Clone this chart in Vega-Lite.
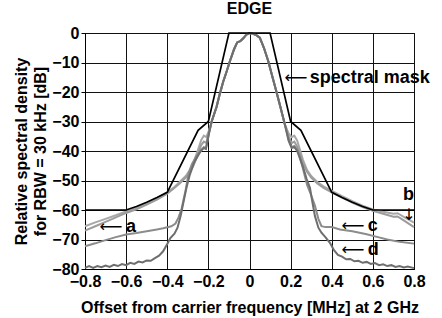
{
  "$schema": "https://vega.github.io/schema/vega-lite/v6.json",
  "width": 329,
  "height": 236,
  "autosize": "none",
  "padding": {"left": 85, "top": 33, "right": 28, "bottom": 49},
  "background": "white",
  "title": {"text": "EDGE", "font": "Liberation Sans", "fontSize": 16, "fontWeight": "bold", "color": "black", "anchor": "middle", "offset": 8},
  "config": {
    "view": {"stroke": "black", "strokeWidth": 1},
    "axis": {
      "labelFont": "Liberation Sans", "labelFontWeight": "bold", "labelFontSize": 16, "labelColor": "black",
      "titleFont": "Liberation Sans", "titleFontWeight": "bold", "titleFontSize": 16, "titleColor": "black",
      "domainColor": "black", "gridColor": "#111111", "gridOpacity": 1, "gridWidth": 1, "tickColor": "black",
      "labelOverlap": false
    }
  },
  "datasets": {
    "curves": [
      {"series": "a", "x": -0.8, "y": -65.5}, {"series": "a", "x": -0.75, "y": -64.2}, {"series": "a", "x": -0.7, "y": -63}, {"series": "a", "x": -0.65, "y": -61.8}, {"series": "a", "x": -0.6, "y": -60.5}, {"series": "a", "x": -0.55, "y": -59.3}, {"series": "a", "x": -0.5, "y": -57.8}, {"series": "a", "x": -0.45, "y": -56}, {"series": "a", "x": -0.4, "y": -54}, {"series": "a", "x": -0.37, "y": -52.5}, {"series": "a", "x": -0.34, "y": -50.5}, {"series": "a", "x": -0.31, "y": -48.5}, {"series": "a", "x": -0.29, "y": -46.5}, {"series": "a", "x": -0.27, "y": -43.5}, {"series": "a", "x": -0.25, "y": -39.5}, {"series": "a", "x": -0.235, "y": -36.3}, {"series": "a", "x": -0.222, "y": -34.8}, {"series": "a", "x": -0.21, "y": -35.3}, {"series": "a", "x": -0.197, "y": -33}, {"series": "a", "x": -0.184, "y": -30}, {"series": "a", "x": -0.16, "y": -25}, {"series": "a", "x": -0.145, "y": -20.8}, {"series": "a", "x": -0.128, "y": -16.5}, {"series": "a", "x": -0.11, "y": -12.8}, {"series": "a", "x": -0.095, "y": -9.5}, {"series": "a", "x": -0.075, "y": -5.5}, {"series": "a", "x": -0.06, "y": -3.2}, {"series": "a", "x": -0.045, "y": -2.8}, {"series": "a", "x": -0.03, "y": -1.8}, {"series": "a", "x": -0.015, "y": -0.5}, {"series": "a", "x": 0, "y": 0}, {"series": "a", "x": 0.015, "y": -0.2}, {"series": "a", "x": 0.035, "y": -0.8}, {"series": "a", "x": 0.05, "y": -1.6}, {"series": "a", "x": 0.07, "y": -5}, {"series": "a", "x": 0.091, "y": -9.5}, {"series": "a", "x": 0.11, "y": -14.5}, {"series": "a", "x": 0.13, "y": -19.7}, {"series": "a", "x": 0.15, "y": -25}, {"series": "a", "x": 0.172, "y": -31}, {"series": "a", "x": 0.19, "y": -34}, {"series": "a", "x": 0.205, "y": -35.3}, {"series": "a", "x": 0.218, "y": -34.8}, {"series": "a", "x": 0.232, "y": -36.5}, {"series": "a", "x": 0.245, "y": -39.5}, {"series": "a", "x": 0.26, "y": -43}, {"series": "a", "x": 0.28, "y": -46.5}, {"series": "a", "x": 0.3, "y": -48.5}, {"series": "a", "x": 0.33, "y": -50.5}, {"series": "a", "x": 0.36, "y": -52}, {"series": "a", "x": 0.4, "y": -53.5}, {"series": "a", "x": 0.45, "y": -55.3}, {"series": "a", "x": 0.5, "y": -57}, {"series": "a", "x": 0.55, "y": -58.5}, {"series": "a", "x": 0.6, "y": -59.8}, {"series": "a", "x": 0.65, "y": -60.6}, {"series": "a", "x": 0.7, "y": -61.3}, {"series": "a", "x": 0.72, "y": -61.1}, {"series": "a", "x": 0.75, "y": -62.3}, {"series": "a", "x": 0.8, "y": -64.3},

      {"series": "b", "x": -0.8, "y": -67}, {"series": "b", "x": -0.75, "y": -65.5}, {"series": "b", "x": -0.7, "y": -64}, {"series": "b", "x": -0.65, "y": -62.5}, {"series": "b", "x": -0.6, "y": -61}, {"series": "b", "x": -0.55, "y": -59.8}, {"series": "b", "x": -0.5, "y": -58.2}, {"series": "b", "x": -0.45, "y": -56.5}, {"series": "b", "x": -0.4, "y": -54.5}, {"series": "b", "x": -0.37, "y": -52.8}, {"series": "b", "x": -0.34, "y": -51}, {"series": "b", "x": -0.31, "y": -49}, {"series": "b", "x": -0.29, "y": -47.3}, {"series": "b", "x": -0.27, "y": -44.5}, {"series": "b", "x": -0.25, "y": -41}, {"series": "b", "x": -0.235, "y": -38}, {"series": "b", "x": -0.222, "y": -36.8}, {"series": "b", "x": -0.21, "y": -37.3}, {"series": "b", "x": -0.197, "y": -33.5}, {"series": "b", "x": -0.184, "y": -30}, {"series": "b", "x": -0.16, "y": -25}, {"series": "b", "x": -0.145, "y": -20.8}, {"series": "b", "x": -0.128, "y": -16.5}, {"series": "b", "x": -0.11, "y": -12.8}, {"series": "b", "x": -0.095, "y": -9.5}, {"series": "b", "x": -0.075, "y": -5.5}, {"series": "b", "x": -0.06, "y": -3.2}, {"series": "b", "x": -0.045, "y": -2.8}, {"series": "b", "x": -0.03, "y": -1.8}, {"series": "b", "x": -0.015, "y": -0.5}, {"series": "b", "x": 0, "y": 0}, {"series": "b", "x": 0.015, "y": -0.2}, {"series": "b", "x": 0.035, "y": -0.8}, {"series": "b", "x": 0.05, "y": -1.6}, {"series": "b", "x": 0.07, "y": -5}, {"series": "b", "x": 0.091, "y": -9.5}, {"series": "b", "x": 0.11, "y": -14.5}, {"series": "b", "x": 0.13, "y": -19.7}, {"series": "b", "x": 0.15, "y": -25}, {"series": "b", "x": 0.172, "y": -31}, {"series": "b", "x": 0.19, "y": -35}, {"series": "b", "x": 0.205, "y": -37.3}, {"series": "b", "x": 0.218, "y": -36.8}, {"series": "b", "x": 0.232, "y": -38.5}, {"series": "b", "x": 0.245, "y": -41}, {"series": "b", "x": 0.26, "y": -44}, {"series": "b", "x": 0.28, "y": -47}, {"series": "b", "x": 0.3, "y": -49}, {"series": "b", "x": 0.33, "y": -51}, {"series": "b", "x": 0.36, "y": -52.5}, {"series": "b", "x": 0.4, "y": -54}, {"series": "b", "x": 0.45, "y": -55.8}, {"series": "b", "x": 0.5, "y": -57.5}, {"series": "b", "x": 0.55, "y": -59}, {"series": "b", "x": 0.6, "y": -60.3}, {"series": "b", "x": 0.65, "y": -61.3}, {"series": "b", "x": 0.7, "y": -62.3}, {"series": "b", "x": 0.72, "y": -62.2}, {"series": "b", "x": 0.75, "y": -63.5}, {"series": "b", "x": 0.8, "y": -65.8},

      {"series": "c", "x": -0.8, "y": -72.3}, {"series": "c", "x": -0.75, "y": -71.3}, {"series": "c", "x": -0.7, "y": -70.2}, {"series": "c", "x": -0.65, "y": -69.2}, {"series": "c", "x": -0.6, "y": -68.3}, {"series": "c", "x": -0.55, "y": -67.8}, {"series": "c", "x": -0.5, "y": -67.2}, {"series": "c", "x": -0.45, "y": -66.6}, {"series": "c", "x": -0.42, "y": -66.2}, {"series": "c", "x": -0.38, "y": -65.5}, {"series": "c", "x": -0.36, "y": -64.6}, {"series": "c", "x": -0.345, "y": -62.5}, {"series": "c", "x": -0.33, "y": -59.5}, {"series": "c", "x": -0.31, "y": -53}, {"series": "c", "x": -0.296, "y": -47.5}, {"series": "c", "x": -0.28, "y": -44.5}, {"series": "c", "x": -0.26, "y": -42}, {"series": "c", "x": -0.245, "y": -40.5}, {"series": "c", "x": -0.232, "y": -39.5}, {"series": "c", "x": -0.222, "y": -38.7}, {"series": "c", "x": -0.212, "y": -39.2}, {"series": "c", "x": -0.197, "y": -34}, {"series": "c", "x": -0.184, "y": -30}, {"series": "c", "x": -0.16, "y": -25}, {"series": "c", "x": -0.145, "y": -20.8}, {"series": "c", "x": -0.128, "y": -16.5}, {"series": "c", "x": -0.11, "y": -12.8}, {"series": "c", "x": -0.095, "y": -9.5}, {"series": "c", "x": -0.075, "y": -5.5}, {"series": "c", "x": -0.06, "y": -3.2}, {"series": "c", "x": -0.045, "y": -2.8}, {"series": "c", "x": -0.03, "y": -1.8}, {"series": "c", "x": -0.015, "y": -0.5}, {"series": "c", "x": 0, "y": 0}, {"series": "c", "x": 0.015, "y": -0.2}, {"series": "c", "x": 0.035, "y": -0.8}, {"series": "c", "x": 0.05, "y": -1.6}, {"series": "c", "x": 0.07, "y": -5}, {"series": "c", "x": 0.091, "y": -9.5}, {"series": "c", "x": 0.11, "y": -14.5}, {"series": "c", "x": 0.13, "y": -19.7}, {"series": "c", "x": 0.15, "y": -25}, {"series": "c", "x": 0.172, "y": -31}, {"series": "c", "x": 0.19, "y": -36}, {"series": "c", "x": 0.205, "y": -38.7}, {"series": "c", "x": 0.218, "y": -38.3}, {"series": "c", "x": 0.232, "y": -39.5}, {"series": "c", "x": 0.245, "y": -42}, {"series": "c", "x": 0.261, "y": -46.3}, {"series": "c", "x": 0.28, "y": -51.5}, {"series": "c", "x": 0.3, "y": -55}, {"series": "c", "x": 0.318, "y": -58.5}, {"series": "c", "x": 0.335, "y": -63}, {"series": "c", "x": 0.35, "y": -65.5}, {"series": "c", "x": 0.37, "y": -65.8}, {"series": "c", "x": 0.4, "y": -65.8}, {"series": "c", "x": 0.44, "y": -66.6}, {"series": "c", "x": 0.5, "y": -67.2}, {"series": "c", "x": 0.57, "y": -68.2}, {"series": "c", "x": 0.62, "y": -69.1}, {"series": "c", "x": 0.67, "y": -70}, {"series": "c", "x": 0.73, "y": -70.8}, {"series": "c", "x": 0.8, "y": -71.4},

      {"series": "d", "x": -0.8, "y": -79.6}, {"series": "d", "x": -0.78, "y": -79.0}, {"series": "d", "x": -0.76, "y": -79.6}, {"series": "d", "x": -0.74, "y": -79.0}, {"series": "d", "x": -0.72, "y": -79.4}, {"series": "d", "x": -0.7, "y": -78.8}, {"series": "d", "x": -0.68, "y": -79.3}, {"series": "d", "x": -0.66, "y": -78.6}, {"series": "d", "x": -0.64, "y": -79.0}, {"series": "d", "x": -0.62, "y": -78.3}, {"series": "d", "x": -0.6, "y": -78.7}, {"series": "d", "x": -0.58, "y": -77.9}, {"series": "d", "x": -0.56, "y": -78.3}, {"series": "d", "x": -0.54, "y": -77.5}, {"series": "d", "x": -0.52, "y": -77.8}, {"series": "d", "x": -0.5, "y": -77.1}, {"series": "d", "x": -0.48, "y": -77.2}, {"series": "d", "x": -0.46, "y": -76.3}, {"series": "d", "x": -0.44, "y": -75.5}, {"series": "d", "x": -0.42, "y": -74}, {"series": "d", "x": -0.4, "y": -71.5}, {"series": "d", "x": -0.385, "y": -69.5}, {"series": "d", "x": -0.365, "y": -68}, {"series": "d", "x": -0.35, "y": -66}, {"series": "d", "x": -0.335, "y": -62}, {"series": "d", "x": -0.32, "y": -57}, {"series": "d", "x": -0.305, "y": -52}, {"series": "d", "x": -0.29, "y": -48}, {"series": "d", "x": -0.27, "y": -44}, {"series": "d", "x": -0.25, "y": -41.5}, {"series": "d", "x": -0.235, "y": -39.8}, {"series": "d", "x": -0.222, "y": -39}, {"series": "d", "x": -0.212, "y": -39.3}, {"series": "d", "x": -0.197, "y": -34}, {"series": "d", "x": -0.184, "y": -30}, {"series": "d", "x": -0.16, "y": -25}, {"series": "d", "x": -0.145, "y": -20.8}, {"series": "d", "x": -0.128, "y": -16.5}, {"series": "d", "x": -0.11, "y": -12.8}, {"series": "d", "x": -0.095, "y": -9.5}, {"series": "d", "x": -0.075, "y": -5.5}, {"series": "d", "x": -0.06, "y": -3.2}, {"series": "d", "x": -0.045, "y": -2.8}, {"series": "d", "x": -0.03, "y": -1.8}, {"series": "d", "x": -0.015, "y": -0.5}, {"series": "d", "x": 0, "y": 0}, {"series": "d", "x": 0.015, "y": -0.2}, {"series": "d", "x": 0.035, "y": -0.8}, {"series": "d", "x": 0.05, "y": -1.6}, {"series": "d", "x": 0.07, "y": -5}, {"series": "d", "x": 0.091, "y": -9.5}, {"series": "d", "x": 0.11, "y": -14.5}, {"series": "d", "x": 0.13, "y": -19.7}, {"series": "d", "x": 0.15, "y": -25}, {"series": "d", "x": 0.172, "y": -31}, {"series": "d", "x": 0.19, "y": -36.5}, {"series": "d", "x": 0.205, "y": -39}, {"series": "d", "x": 0.218, "y": -38.7}, {"series": "d", "x": 0.232, "y": -40}, {"series": "d", "x": 0.245, "y": -42.5}, {"series": "d", "x": 0.261, "y": -45.5}, {"series": "d", "x": 0.278, "y": -49.5}, {"series": "d", "x": 0.294, "y": -52.5}, {"series": "d", "x": 0.305, "y": -57}, {"series": "d", "x": 0.318, "y": -62}, {"series": "d", "x": 0.335, "y": -66}, {"series": "d", "x": 0.35, "y": -67.7}, {"series": "d", "x": 0.37, "y": -69.3}, {"series": "d", "x": 0.391, "y": -71.1}, {"series": "d", "x": 0.41, "y": -73.5}, {"series": "d", "x": 0.43, "y": -75.2}, {"series": "d", "x": 0.45, "y": -75.8}, {"series": "d", "x": 0.47, "y": -76.7}, {"series": "d", "x": 0.49, "y": -76.6}, {"series": "d", "x": 0.51, "y": -77.4}, {"series": "d", "x": 0.53, "y": -77.2}, {"series": "d", "x": 0.55, "y": -77.9}, {"series": "d", "x": 0.57, "y": -77.6}, {"series": "d", "x": 0.59, "y": -78.3}, {"series": "d", "x": 0.61, "y": -78.0}, {"series": "d", "x": 0.63, "y": -78.7}, {"series": "d", "x": 0.65, "y": -78.4}, {"series": "d", "x": 0.67, "y": -79.0}, {"series": "d", "x": 0.69, "y": -78.7}, {"series": "d", "x": 0.71, "y": -79.3}, {"series": "d", "x": 0.73, "y": -79.0}, {"series": "d", "x": 0.75, "y": -79.5}, {"series": "d", "x": 0.77, "y": -79.2}, {"series": "d", "x": 0.8, "y": -79.7}
    ],
    "mask": [
      {"x": -0.8, "y": -60}, {"x": -0.6, "y": -60}, {"x": -0.55, "y": -58.8}, {"x": -0.5, "y": -57.4}, {"x": -0.45, "y": -55.8}, {"x": -0.4, "y": -54}, {"x": -0.25, "y": -33}, {"x": -0.2, "y": -30}, {"x": -0.1, "y": 0},
      {"x": 0.1, "y": 0}, {"x": 0.2, "y": -30}, {"x": 0.25, "y": -33}, {"x": 0.4, "y": -54}, {"x": 0.45, "y": -55.8}, {"x": 0.5, "y": -57.4}, {"x": 0.55, "y": -58.8}, {"x": 0.6, "y": -60}, {"x": 0.8, "y": -60}
    ],
    "arrows": [
      {"x": 0.226, "y": -15.4, "label": "⟵"},
      {"x": -0.674, "y": -65.6, "label": "⟵"},
      {"x": 0.503, "y": -65.3, "label": "⟵"},
      {"x": 0.503, "y": -73.4, "label": "⟵"},
      {"x": 0.775, "y": -61.7, "label": "↓"}
    ],
    "notes": [
      {"x": 0.293, "y": -15.4, "label": "spectral mask"},
      {"x": -0.601, "y": -65.6, "label": "a"},
      {"x": 0.575, "y": -65.3, "label": "c"},
      {"x": 0.575, "y": -73.4, "label": "d"},
      {"x": 0.746, "y": -54.9, "label": "b"}
    ]
  },
  "encoding": {
    "x": {"field": "x", "type": "quantitative", "scale": {"domain": [-0.8, 0.8], "nice": false},
          "axis": {"values": [-0.8, -0.6, -0.4, -0.2, 0, 0.2, 0.4, 0.6, 0.8], "labelExpr": "datum.value == 0 ? '0' : format(datum.value, '.1f')", "ticks": false, "labelPadding": 4, "title": "Offset from carrier frequency [MHz] at 2 GHz", "titlePadding": 10, "grid": true, "labelFlush": false}},
    "y": {"field": "y", "type": "quantitative", "scale": {"domain": [-80, 0], "nice": false},
          "axis": {"values": [-80, -70, -60, -50, -40, -30, -20, -10, 0], "format": "d", "tickSize": 4, "labelPadding": 2, "title": ["Relative spectral density", "for RBW = 30 kHz [dB]"], "titleLineHeight": 19, "titlePadding": 3, "grid": true}}
  },
  "layer": [
    {
      "data": {"name": "curves"},
      "mark": {"type": "line", "strokeWidth": 2, "interpolate": "linear"},
      "encoding": {
        "color": {"field": "series", "type": "nominal", "legend": null,
                  "scale": {"domain": ["a", "b", "c", "d"], "range": ["#a8a8a8", "#9c9c9c", "#8c8c8c", "#6e6e6e"]}}
      }
    },
    {
      "data": {"name": "mask"},
      "mark": {"type": "line", "color": "black", "strokeWidth": 1.7},
      "encoding": {}
    },
    {
      "data": {"name": "arrows"},
      "mark": {"type": "text", "font": "DejaVu Sans", "fontSize": 16, "fontWeight": "normal", "align": "center", "baseline": "middle", "color": "black"},
      "encoding": {"text": {"field": "label"}}
    },
    {
      "data": {"name": "notes"},
      "mark": {"type": "text", "font": "Liberation Sans", "fontSize": 18, "fontWeight": "bold", "align": "left", "baseline": "middle", "color": "black"},
      "encoding": {"text": {"field": "label"}}
    }
  ]
}
